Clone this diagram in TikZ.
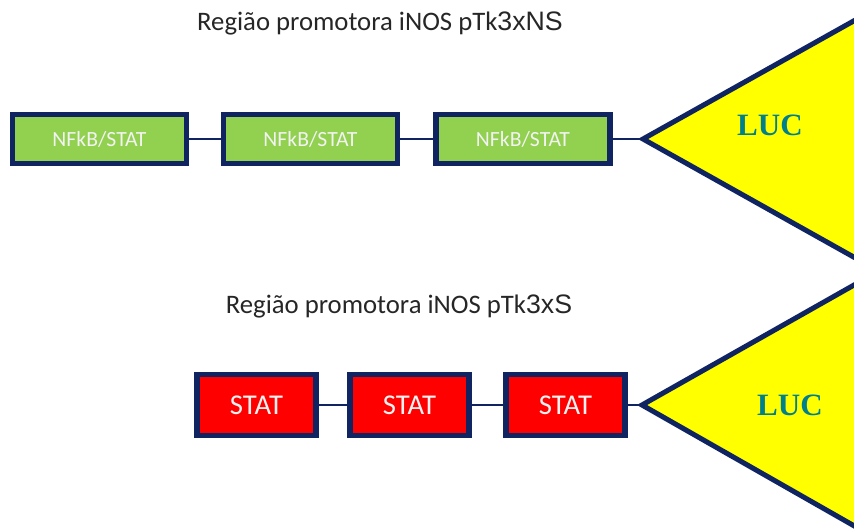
\documentclass[tikz,border=0pt]{standalone}
\usepackage{fontspec}
\setmainfont{Carlito}
\newfontfamily\arialf{Liberation Sans}
\newfontfamily\timesf{Liberation Serif}
\usetikzlibrary{positioning,calc}
\definecolor{nav}{HTML}{0F2460}
\definecolor{grn}{HTML}{92D050}
\definecolor{rd}{HTML}{FF0000}
\definecolor{yel}{HTML}{FFFF00}
\definecolor{tea}{HTML}{00808A}
\definecolor{ttl}{HTML}{262626}
\tikzset{
  nfbox/.style={draw=nav, fill=grn, line width=4.3pt, minimum width=5.22cm, minimum height=1.47cm, inner sep=0pt, text=white!95!black, font=\fontsize{18.5}{20}\selectfont},
  stbox/.style={draw=nav, fill=rd, line width=4.3pt, minimum width=3.57cm, minimum height=1.83cm, inner sep=0pt, text=white!95!black, font=\fontsize{24.5}{26}\selectfont},
  link/.style={draw=nav, line width=2.4pt},
  luc/.style={draw=nav, fill=yel, line width=4.3pt, line join=miter},
  lucname/.style={text=tea, font=\timesf\bfseries\fontsize{26.5}{28}\selectfont},
  title/.style={text=ttl, font=\fontsize{22.8}{24}\selectfont},
}

\begin{document}
\begin{tikzpicture}[x=0.03cm, y=-0.03cm]
 \useasboundingbox (0,0) rectangle (854,532);
 \begin{scope}
  \clip (0,0) rectangle (854,532);
  \draw[luc] (643,139) -- (900,-5) -- (900,283) -- cycle;
  \draw[luc] (642,405) -- (900,259) -- (900,552) -- cycle;
 \end{scope}
 \coordinate (tipA) at (643,139);
 \coordinate (tipB) at (642,405);
 \node[title] (headA) at (380,23) {Região promotora iNOS pTk{\arialf 3xNS}};
 \node[title] (headB) at (399,306) {Região promotora iNOS pTk{\arialf 3xS}};
 \node[nfbox] (nf1) at (99.5,139) {NFkB/STAT};
 \node[nfbox] (nf2) at (310.5,139) {NFkB/STAT};
 \node[nfbox] (nf3) at (523,139) {NFkB/STAT};
 \node[stbox] (st1) at (256.5,405) {STAT};
 \node[stbox] (st2) at (409.5,405) {STAT};
 \node[stbox] (st3) at (565.5,405) {STAT};
 \draw[link] (nf1) -- (nf2);
 \draw[link] (nf2) -- (nf3);
 \draw[link] (nf3) -- (tipA);
 \draw[link] (st1) -- (st2);
 \draw[link] (st2) -- (st3);
 \draw[link] (st3) -- (tipB);
 \node[lucname] (lucA) at (770,125) {LUC};
 \node[lucname] (lucB) at (790,405) {LUC};
\end{tikzpicture}
\end{document}
